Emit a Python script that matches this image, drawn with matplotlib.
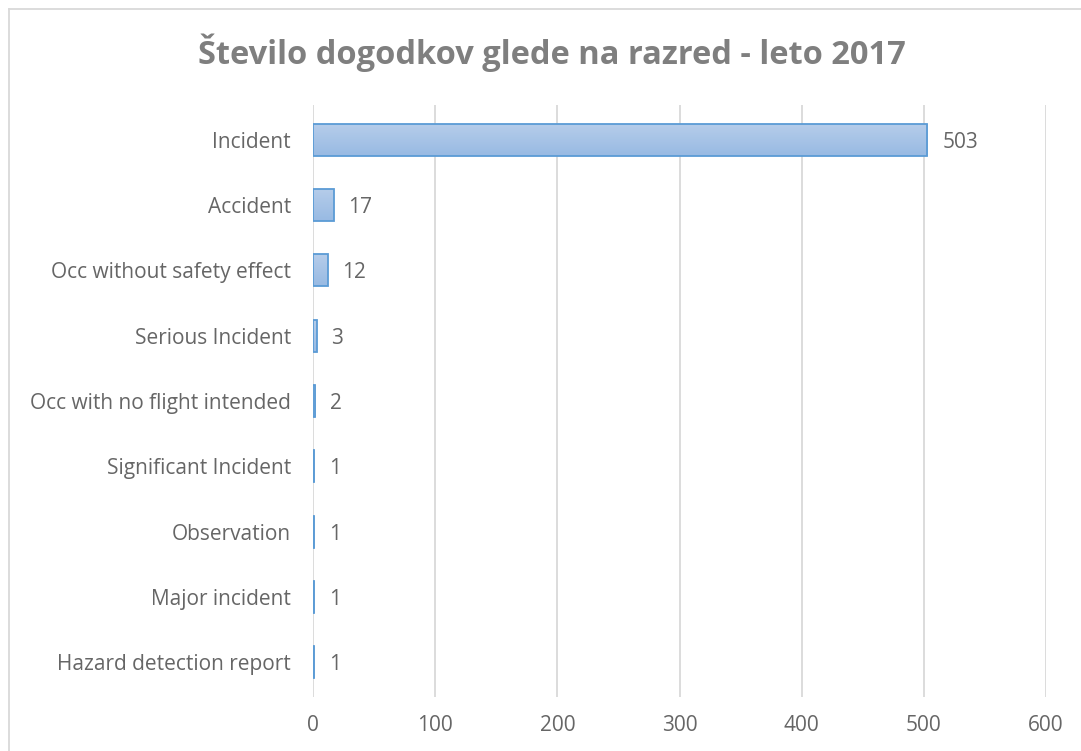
import matplotlib.pyplot as plt
import numpy as np
from matplotlib.lines import Line2D

categories = [
    "Incident",
    "Accident",
    "Occ without safety effect",
    "Serious Incident",
    "Occ with no flight intended",
    "Significant Incident",
    "Observation",
    "Major incident",
    "Hazard detection report",
]
counts = [503, 17, 12, 3, 2, 1, 1, 1, 1]
x_ticks = [0, 100, 200, 300, 400, 500, 600]

plt.rcParams["font.family"] = ["Open Sans", "DejaVu Sans"]

W, H = 1081, 751
fig = plt.figure(figsize=(W / 100, H / 100), dpi=100)
ax = fig.add_axes([313 / W, 1 - 697 / H, (1046 - 313) / W, (697 - 105) / H])

y = np.arange(len(categories))
bar_h = 0.49
edge = "#5b9bd5"
text_col = "#666666"
grad = np.linspace(0, 1, 64).reshape(-1, 1)
cmap = plt.matplotlib.colors.LinearSegmentedColormap.from_list("g", ["#b6cdea", "#98bae3"])

bars = ax.barh(y, counts, height=bar_h, color="none", edgecolor=edge, linewidth=1.3, zorder=3)
for rect, yy, v in zip(bars, y, counts):
    # vertical gradient fill, clipped to the bar outline
    im = ax.imshow(grad, cmap=cmap, aspect="auto", zorder=2,
                   extent=[0, v, yy + bar_h / 2, yy - bar_h / 2])
    im.set_clip_path(rect)
    ax.text(v + 12, yy, str(v), va="center_baseline", ha="left", fontsize=15, color=text_col)

ax.set_xlim(0, 600)
ax.set_ylim(len(categories) - 0.47, -0.53)
ax.set_xticks(x_ticks)
ax.set_yticks(y)
ax.set_yticklabels(categories)
ax.tick_params(axis="x", length=0, pad=13, labelsize=15, labelcolor=text_col)
ax.tick_params(axis="y", length=0, pad=16, labelsize=15, labelcolor=text_col)
ax.grid(axis="x", color="#d9d9d9", linewidth=1.3, zorder=0)
ax.set_axisbelow(True)
for s in ax.spines.values():
    s.set_visible(False)

fig.text(552 / W, 1 - 53 / H, "Število dogodkov glede na razred - leto 2017",
         ha="center", va="center", fontsize=23.5, fontweight="bold", color="#7f7f7f")

# chart-area border (only top and left visible in the crop)
fig.add_artist(Line2D([8.5 / W, 1], [1 - 8.5 / H, 1 - 8.5 / H], color="#d9d9d9", linewidth=1.3))
fig.add_artist(Line2D([8.5 / W, 8.5 / W], [0, 1 - 8.5 / H], color="#d9d9d9", linewidth=1.3))

fig.savefig("out.png", dpi=100)
